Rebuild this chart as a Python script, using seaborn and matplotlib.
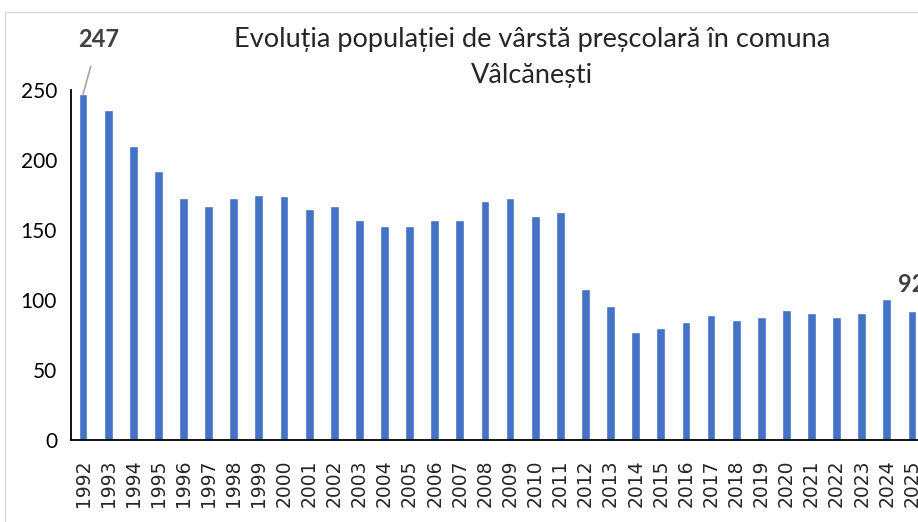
"""
Evoluția populației de vârstă preșcolară în comuna Vâlcănești
"""

import matplotlib
matplotlib.use('Agg')
import matplotlib.pyplot as plt
from matplotlib.patches import Rectangle
import seaborn as sns
import pandas as pd

# date
ani = [str(a) for a in range(1992, 2026)]
populatie = [247, 236, 210, 192, 173, 167, 173, 175, 174, 165,
             167, 157, 153, 153, 157, 157, 171, 173, 160, 163,
             108, 96, 77, 80, 84, 89, 86, 88, 93, 91,
             88, 91, 101, 92]
y_ticks = [0, 50, 100, 150, 200, 250]

df = pd.DataFrame({'an': ani, 'populatie': populatie})

sns.set_style('white')
plt.rcParams['font.family'] = ['Lato', 'DejaVu Sans']

fig = plt.figure(figsize=(9.18, 5.22), dpi=100)
ax = fig.add_axes([71 / 918, 1 - 440 / 522, 1 - 71 / 918, 350 / 522])

sns.barplot(data=df, x='an', y='populatie', color='#4472C4', width=0.35,
            saturation=1, ax=ax)

ax.set_ylim(0, 250)
ax.set_xlim(-0.48, len(ani) - 1 + 0.24)
ax.set_yticks(y_ticks)
ax.set_yticklabels([str(t) for t in y_ticks], fontsize=15, color='#000000')
ax.set_xticks(range(len(ani)))
ax.set_xticklabels(ani, rotation=90, fontsize=13.5, family='DejaVu Sans')
ax.tick_params(axis='both', length=0, pad=10)
ax.tick_params(axis='x', pad=14)
ax.set_xlabel('')
ax.set_ylabel('')

for side in ['top', 'right']:
    ax.spines[side].set_visible(False)
ax.spines['left'].set_color('#000000')
ax.spines['left'].set_linewidth(1.3)
ax.spines['bottom'].set_color('#000000')
ax.spines['bottom'].set_linewidth(1.3)

# etichete de date
ax.annotate(str(populatie[0]), xy=(0, populatie[0]), xytext=(0.6, 286),
            fontsize=17, fontweight='bold', color='#404040', ha='center',
            va='center', annotation_clip=False,
            arrowprops=dict(arrowstyle='-', color='#A6A6A6', lw=1.2,
                            shrinkA=9, shrinkB=0))
ax.text(len(ani) - 1, populatie[-1] + 19, str(populatie[-1]), fontsize=17,
        fontweight='bold', color='#404040', ha='center', va='center')

fig.text(532 / 918, 1 - 40 / 522,
         'Evoluția populației de vârstă preșcolară în comuna',
         fontsize=19.5, ha='center', va='center')
fig.text(532 / 918, 1 - 75 / 522, 'Vâlcănești',
         fontsize=19.5, ha='center', va='center')

# chenar
fig.add_artist(Rectangle((5 / 918, -0.05), 1.2, 1 - 12 / 522 + 0.05,
                         transform=fig.transFigure, fill=False,
                         edgecolor='#D9D9D9', lw=1))

plt.savefig('out.png', dpi=100)
plt.close()
